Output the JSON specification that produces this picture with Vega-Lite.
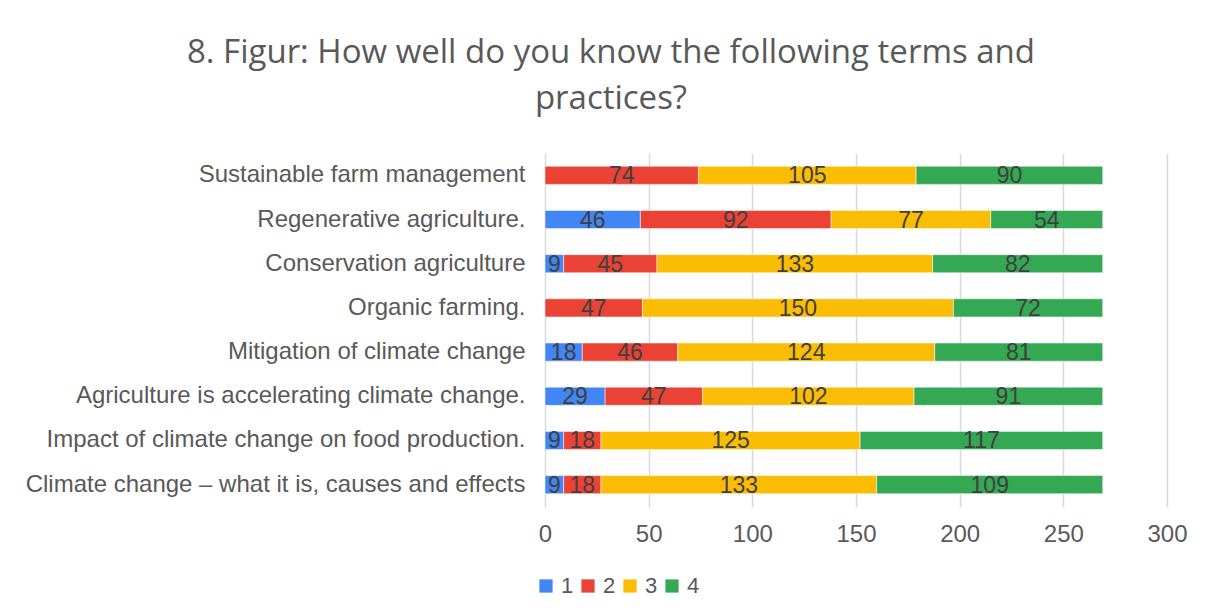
{
  "$schema": "https://vega.github.io/schema/vega-lite/v6.json",
  "width": 622,
  "height": 354,
  "autosize": {"type": "none"},
  "padding": {"left": 545, "top": 153, "right": 45, "bottom": 109},
  "background": "white",
  "config": {"view": {"stroke": null}},
  "title": {
    "text": ["8. Figur: How well do you know the following terms and", "practices?"],
    "font": "Open Sans",
    "fontSize": 33,
    "fontWeight": "normal",
    "color": "#595959",
    "anchor": "middle",
    "frame": "group",
    "dx": -245,
    "offset": 37,
    "lineHeight": 46
  },
  "data": {
    "values": [
      {"item": "Sustainable farm management", "level": "2", "n": 74},
      {"item": "Sustainable farm management", "level": "3", "n": 105},
      {"item": "Sustainable farm management", "level": "4", "n": 90},
      {"item": "Regenerative agriculture.", "level": "1", "n": 46},
      {"item": "Regenerative agriculture.", "level": "2", "n": 92},
      {"item": "Regenerative agriculture.", "level": "3", "n": 77},
      {"item": "Regenerative agriculture.", "level": "4", "n": 54},
      {"item": "Conservation agriculture", "level": "1", "n": 9},
      {"item": "Conservation agriculture", "level": "2", "n": 45},
      {"item": "Conservation agriculture", "level": "3", "n": 133},
      {"item": "Conservation agriculture", "level": "4", "n": 82},
      {"item": "Organic farming.", "level": "2", "n": 47},
      {"item": "Organic farming.", "level": "3", "n": 150},
      {"item": "Organic farming.", "level": "4", "n": 72},
      {"item": "Mitigation of climate change", "level": "1", "n": 18},
      {"item": "Mitigation of climate change", "level": "2", "n": 46},
      {"item": "Mitigation of climate change", "level": "3", "n": 124},
      {"item": "Mitigation of climate change", "level": "4", "n": 81},
      {"item": "Agriculture is accelerating climate change.", "level": "1", "n": 29},
      {"item": "Agriculture is accelerating climate change.", "level": "2", "n": 47},
      {"item": "Agriculture is accelerating climate change.", "level": "3", "n": 102},
      {"item": "Agriculture is accelerating climate change.", "level": "4", "n": 91},
      {"item": "Impact of climate change on food production.", "level": "1", "n": 9},
      {"item": "Impact of climate change on food production.", "level": "2", "n": 18},
      {"item": "Impact of climate change on food production.", "level": "3", "n": 125},
      {"item": "Impact of climate change on food production.", "level": "4", "n": 117},
      {"item": "Climate change – what it is, causes and effects", "level": "1", "n": 9},
      {"item": "Climate change – what it is, causes and effects", "level": "2", "n": 18},
      {"item": "Climate change – what it is, causes and effects", "level": "3", "n": 133},
      {"item": "Climate change – what it is, causes and effects", "level": "4", "n": 109}
    ]
  },
  "transform": [
    {"stack": "n", "groupby": ["item"], "sort": [{"field": "level", "order": "ascending"}], "as": ["x0", "x1"]},
    {"calculate": "(datum.x0 + datum.x1) / 2", "as": "xm"}
  ],
  "encoding": {
    "y": {
      "field": "item",
      "type": "nominal",
      "sort": [
        "Sustainable farm management",
        "Regenerative agriculture.",
        "Conservation agriculture",
        "Organic farming.",
        "Mitigation of climate change",
        "Agriculture is accelerating climate change.",
        "Impact of climate change on food production.",
        "Climate change – what it is, causes and effects"
      ],
      "scale": {"paddingInner": 0.59, "paddingOuter": 0.3},
      "axis": {
        "title": null,
        "domain": false,
        "ticks": false,
        "labelFont": "Liberation Sans",
        "labelFontSize": 24,
        "labelColor": "#595959",
        "labelPadding": 20,
        "labelLimit": 600
      }
    }
  },
  "layer": [
    {
      "mark": {"type": "bar", "stroke": "white", "strokeWidth": 0.5},
      "encoding": {
        "x": {
          "field": "x0",
          "type": "quantitative",
          "scale": {"domain": [0, 300], "nice": false},
          "axis": {
            "title": null,
            "values": [0, 50, 100, 150, 200, 250, 300],
            "domain": false,
            "ticks": false,
            "grid": true,
            "gridColor": "#d9d9d9",
            "gridWidth": 1.5,
            "labelFlush": false,
            "labelOverlap": false,
            "labelFont": "Liberation Sans",
            "labelFontSize": 24,
            "labelColor": "#595959",
            "labelPadding": 15
          }
        },
        "x2": {"field": "x1"},
        "color": {
          "field": "level",
          "type": "nominal",
          "scale": {"domain": ["1", "2", "3", "4"], "range": ["#4285F4", "#EA4335", "#FBBC04", "#34A853"]},
          "legend": {
            "title": null,
            "orient": "none",
            "direction": "horizontal",
            "legendX": -10,
            "legendY": 422,
            "symbolType": "square",
            "symbolSize": 175,
            "symbolStrokeWidth": 0,
            "labelFont": "Liberation Sans",
            "labelFontSize": 22,
            "labelColor": "#595959",
            "labelOffset": 4,
            "columnPadding": 3
          }
        }
      }
    },
    {
      "mark": {"type": "text", "font": "Liberation Sans", "fontSize": 23, "color": "#404040", "baseline": "middle", "dy": 1},
      "encoding": {
        "x": {"field": "xm", "type": "quantitative"},
        "text": {"field": "n", "type": "quantitative"}
      }
    }
  ]
}
